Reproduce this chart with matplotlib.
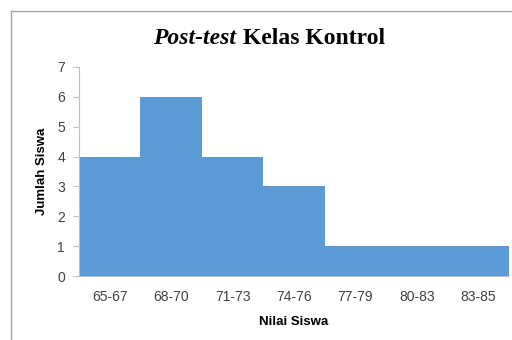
import matplotlib.pyplot as plt
from matplotlib.lines import Line2D

# data
kelas = ["65-67", "68-70", "71-73", "74-76", "77-79", "80-83", "83-85"]
jumlah = [4, 6, 4, 3, 1, 1, 1]

fig = plt.figure(figsize=(5.12, 3.4), dpi=100)
ax = fig.add_axes([79 / 512, 1 - 276 / 340, 430 / 512, 209 / 340])

ax.bar(range(len(kelas)), jumlah, width=1.0, color="#5B9BD5", linewidth=0)

ax.set_xlim(-0.5, len(kelas) - 0.5)
ax.set_ylim(0, 7)
ax.set_yticks(range(0, 8))
ax.set_xticks(range(len(kelas)))
ax.set_xticklabels(kelas)

for s in ["top", "right"]:
    ax.spines[s].set_visible(False)
ax.spines["left"].set_color("#bfbfbf")
ax.spines["bottom"].set_color("#bfbfbf")

ax.tick_params(axis="y", length=4, color="#bfbfbf", pad=6,
               labelsize=10, labelcolor="#404040")
ax.tick_params(axis="x", length=0, pad=10, labelsize=10, labelcolor="#404040")
for lab in ax.get_xticklabels() + ax.get_yticklabels():
    lab.set_fontfamily("Liberation Sans")

ax.set_xlabel("Nilai Siswa", fontsize=9.5, fontweight="bold",
              family="Liberation Sans", labelpad=9)
ax.set_ylabel("Jumlah Siswa", fontsize=9.5, fontweight="bold",
              family="Liberation Sans", labelpad=7)

# title, mixed style
ty = 1 - 44 / 340
fig.text(236 / 512, ty, "Post-test", ha="right", va="baseline",
         family="Liberation Serif", fontsize=17, fontweight="bold", style="italic")
fig.text(243 / 512, ty, "Kelas Kontrol", ha="left", va="baseline",
         family="Liberation Serif", fontsize=17, fontweight="bold")

# chart border (top and left visible)
fig.add_artist(Line2D([11 / 512, 1.0], [1 - 11 / 340, 1 - 11 / 340],
                      transform=fig.transFigure, color="#a6a6a6", lw=1))
fig.add_artist(Line2D([11 / 512, 11 / 512], [0.0, 1 - 11 / 340],
                      transform=fig.transFigure, color="#a6a6a6", lw=1))

fig.savefig("out.png", dpi=100)
